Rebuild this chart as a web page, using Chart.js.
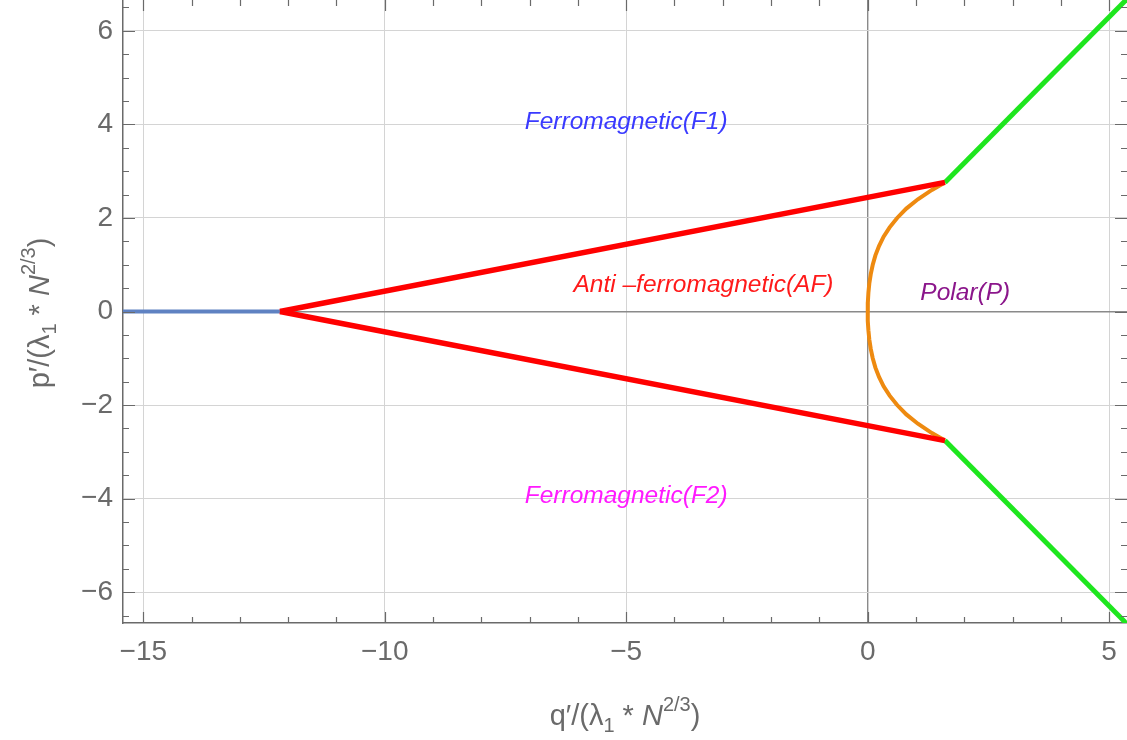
<!DOCTYPE html>
<html>
<head>
<meta charset="utf-8">
<script src="https://cdn.jsdelivr.net/npm/chart.js@4.4.1/dist/chart.umd.min.js"></script>
<style>
  body { margin: 0; background: #fff; }
  #phase { display: block; }
</style>
</head>
<body>
<canvas id="phase" width="1127" height="740"></canvas>
<script>
// phase boundaries in the (q', p') plane
const ferroLineQ = [-15.6, -12.17];
const ferroLineP = [0, 0];

const afUpperQ = [-12.17, 1.60];
const afUpperP = [0, 2.76];
const afLowerQ = [-12.17, 1.60];
const afLowerP = [0, -2.76];

const polarQ = [1.60, 1.33, 1.04, 0.80, 0.61, 0.455, 0.33, 0.235, 0.16, 0.105, 0.064, 0.034, 0.015, 0.004, 0,
                0.004, 0.015, 0.034, 0.064, 0.105, 0.16, 0.235, 0.33, 0.455, 0.61, 0.80, 1.04, 1.33, 1.60];
const polarP = [2.76, 2.6, 2.4, 2.2, 2.0, 1.8, 1.6, 1.4, 1.2, 1.0, 0.8, 0.6, 0.4, 0.2, 0,
                -0.2, -0.4, -0.6, -0.8, -1.0, -1.2, -1.4, -1.6, -1.8, -2.0, -2.2, -2.4, -2.6, -2.76];

const fpUpperQ = [1.60, 5.6];
const fpUpperP = [2.76, 6.92];
const fpLowerQ = [1.60, 5.6];
const fpLowerP = [-2.76, -6.92];

const xTicks = [-15, -10, -5, 0, 5];
const yTicks = [-6, -4, -2, 0, 2, 4, 6];
const xMinor = [-15, -14, -13, -12, -11, -10, -9, -8, -7, -6, -5, -4, -3, -2, -1, 0, 1, 2, 3, 4, 5];
const yMinor = [-6.5, -6, -5.5, -5, -4.5, -4, -3.5, -3, -2.5, -2, -1.5, -1, -0.5, 0, 0.5, 1, 1.5, 2, 2.5, 3, 3.5, 4, 4.5, 5, 5.5, 6, 6.5];

const regionNames = ['Ferromagnetic(F1)', 'Anti \u2013ferromagnetic(AF)', 'Polar(P)', 'Ferromagnetic(F2)'];
const regionQ = [-5.0, -3.4, 2.02, -5.0];
const regionP = [4.05, 0.56, 0.39, -3.95];
const regionColors = ['#3a3aff', '#ff1a1a', '#8b168b', '#ff1aff'];

const pts = (qs, ps) => qs.map((q, i) => ({ x: q, y: ps[i] }));

const GREY = '#6a6a6a';
const FONT = '"Liberation Sans", Arial, sans-serif';

function line(data, color, width) {
  return { data: data, borderColor: color, borderWidth: width, showLine: true,
           pointRadius: 0, fill: false, tension: 0 };
}

// small-tick marks on all four sides, pointing into the frame
const frameTicks = {
  id: 'frameTicks',
  afterDraw(chart) {
    const { ctx, chartArea: a, scales: { x, y } } = chart;
    ctx.save();
    ctx.strokeStyle = GREY;
    ctx.lineWidth = 1.2;
    ctx.beginPath();
    xMinor.forEach(v => {
      const px = Math.round(x.getPixelForValue(v)) + 0.5;
      const len = xTicks.includes(v) ? 11 : 6;
      ctx.moveTo(px, a.bottom); ctx.lineTo(px, a.bottom - len);
      ctx.moveTo(px, a.top); ctx.lineTo(px, a.top + len);
    });
    yMinor.forEach(v => {
      const py = Math.round(y.getPixelForValue(v)) + 0.5;
      const len = yTicks.includes(v) ? 12 : 6;
      ctx.moveTo(a.left, py); ctx.lineTo(a.left + len, py);
      ctx.moveTo(a.right, py); ctx.lineTo(a.right - len, py);
    });
    ctx.stroke();
    ctx.restore();
  }
};

// draws a run of text pieces (sub/superscripts, italics) centred on cx
function drawRuns(ctx, runs, cx, baseY) {
  let total = 0;
  runs.forEach(r => { ctx.font = r.font; total += ctx.measureText(r.t).width; });
  let xPos = cx - total / 2;
  runs.forEach(r => {
    ctx.font = r.font;
    ctx.fillText(r.t, xPos, baseY + (r.dy || 0));
    xPos += ctx.measureText(r.t).width;
  });
}

function titleRuns(letter) {
  const big = '29px ' + FONT, small = '20px ' + FONT;
  return [
    { t: letter + '\u2032/(\u03bb', font: big },
    { t: '1', font: small, dy: 7 },
    { t: ' * ', font: big },
    { t: 'N', font: 'italic 29px ' + FONT },
    { t: '2/3', font: small, dy: -14 },
    { t: ')', font: big }
  ];
}

const labelsAndTitles = {
  id: 'labelsAndTitles',
  afterDatasetsDraw(chart) {
    const { ctx, scales: { x, y } } = chart;
    ctx.save();
    ctx.textBaseline = 'middle';
    ctx.textAlign = 'center';
    ctx.font = 'italic 24.5px ' + FONT;
    regionNames.forEach((name, i) => {
      ctx.fillStyle = regionColors[i];
      ctx.fillText(name, x.getPixelForValue(regionQ[i]), y.getPixelForValue(regionP[i]));
    });
    ctx.textAlign = 'left';
    ctx.textBaseline = 'alphabetic';
    ctx.fillStyle = GREY;
    drawRuns(ctx, titleRuns('q'), 625, 725);
    ctx.translate(49, 313);
    ctx.rotate(-Math.PI / 2);
    drawRuns(ctx, titleRuns('p'), 0, 0);
    ctx.restore();
  }
};

const gridColor = c => (c.tick && c.tick.value === 0) ? '#8a8a8a' : '#d4d4d4';
const gridWidth = c => (c.tick && c.tick.value === 0) ? 1.4 : 1;
const minusSign = v => String(v).replace('-', '\u2212');

// the frame runs right up to the top and right edges of the canvas
function noEdgePadding(s) {
  s.paddingTop = 0; s.paddingRight = 0; s.paddingLeft = 0; s.paddingBottom = 0;
}

new Chart(document.getElementById('phase'), {
  type: 'scatter',
  data: {
    datasets: [
      line(pts(afUpperQ, afUpperP), '#ff0000', 5.5),
      line(pts(afLowerQ, afLowerP), '#ff0000', 5.5),
      line(pts(ferroLineQ, ferroLineP), '#5f82c2', 4),
      line(pts(fpUpperQ, fpUpperP), '#1ee61e', 5),
      line(pts(fpLowerQ, fpLowerP), '#1ee61e', 5),
      line(pts(polarQ, polarP), '#ee8a10', 4)
    ]
  },
  options: {
    responsive: false,
    animation: false,
    devicePixelRatio: 1,
    layout: { padding: 0 },
    plugins: { legend: { display: false }, tooltip: { enabled: false } },
    scales: {
      x: {
        type: 'linear', min: -15.42, max: 5.37,
        afterBuildTicks: s => { s.ticks = xTicks.map(v => ({ value: v })); },
        afterFit: s => { s.height = 117; noEdgePadding(s); },
        grid: { color: gridColor, lineWidth: gridWidth, drawTicks: false },
        border: { display: true, color: GREY, width: 1.5 },
        ticks: { color: GREY, padding: 12, font: { family: FONT, size: 28 }, callback: minusSign }
      },
      y: {
        type: 'linear', min: -6.66, max: 6.66,
        afterBuildTicks: s => { s.ticks = yTicks.map(v => ({ value: v })); },
        afterFit: s => { s.width = 123; noEdgePadding(s); },
        grid: { color: gridColor, lineWidth: gridWidth, drawTicks: false },
        border: { display: true, color: GREY, width: 1.5 },
        ticks: { color: GREY, padding: 10, font: { family: FONT, size: 28 }, callback: minusSign }
      }
    }
  },
  plugins: [frameTicks, labelsAndTitles]
});
</script>
</body>
</html>
